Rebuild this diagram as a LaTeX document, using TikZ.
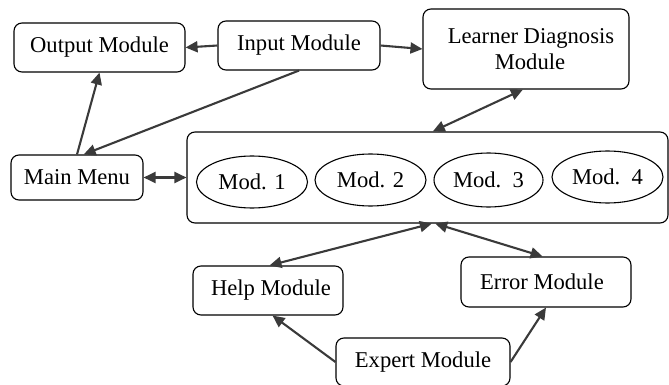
\documentclass[tikz,border=0pt]{standalone}
\usepackage{fontspec}
\setmainfont{Liberation Serif}
\usetikzlibrary{arrows.meta,calc,shapes.geometric}
\definecolor{arrowgray}{HTML}{3A3A3A}
\begin{document}
\begin{tikzpicture}[x=1pt,y=-1pt,
  font=\fontsize{22.6}{26.5}\selectfont,
  modbox/.style={draw=black,line width=1.1pt,rounded corners=8pt,inner sep=0pt,align=center},
  modell/.style={draw=black,line width=1.1pt,ellipse,inner sep=0pt},
  tip/.style={Triangle[length=12pt,width=11pt]},
  link/.style={draw=arrowgray,line width=2.1pt,-{Triangle[length=12pt,width=11pt]}},
  blink/.style={draw=arrowgray,line width=2.1pt,{Triangle[length=12pt,width=11pt]}-{Triangle[length=12pt,width=11pt]}}]
\useasboundingbox (0,0) rectangle (669,385);

% boxes
\node[modbox,minimum width=171pt,minimum height=49pt] (out) at (99.5,47.5) {Output Module};
\node[modbox,minimum width=162pt,minimum height=49pt] (inp) at (299,45.5) {Input Module};
\node[modbox,minimum width=206pt,minimum height=80pt] (ld) at (526,49) {\hspace*{10pt}Learner Diagnosis\\\hspace*{8pt}Module};
\node[modbox,minimum width=132pt,minimum height=45pt] (main) at (77,177.5) {Main Menu};
\node[modbox,minimum width=481pt,minimum height=91pt] (big) at (427.5,177.5) {};
\node[modbox,minimum width=150pt,minimum height=49pt] (help) at (268,290.5) {\hspace*{6pt}Help Module};
\node[modbox,minimum width=170pt,minimum height=50pt] (err) at (546,282) {\hspace*{-8pt}Error Module};
\node[modbox,minimum width=174pt,minimum height=48pt] (exp) at (423,362) {Expert Module};

% modules inside the main frame
\node[modell,minimum width=111pt,minimum height=52pt] (m1) at (252,182) {Mod. 1};
\node[modell,minimum width=111pt,minimum height=52pt] (m2) at (370.5,180) {Mod. 2};
\node[modell,minimum width=109pt,minimum height=54pt] (m3) at (488.5,180) {Mod.\ \ 3};
\node[modell,minimum width=111pt,minimum height=52pt] (m4) at (607.5,177) {Mod.\ \ 4};

% connectors
\draw[link] (inp.west) -- (out.east);
\draw[link] (inp.east) -- (ld.west);
\draw[link] (main.north) -- (out.south);
\draw[link] (inp.south) -- ($(main.north west)!0.55!(main.north east)$);
\draw[blink] (main.east) -- (big.west);
\draw[blink] ($(ld.south west)!0.485!(ld.south east)$) -- ($(big.north west)!0.511!(big.north east)$);
\draw[blink] ($(help.north west)!0.51!(help.north east)$) -- ($(big.south west)!0.509!(big.south east)$);
\draw[blink] ($(err.north west)!0.48!(err.north east)$) -- ($(big.south west)!0.516!(big.south east)$);
\draw[link] (exp.west) -- ($(help.south west)!0.53!(help.south east)$);
\draw[link] (exp.east) -- (err.south);
\end{tikzpicture}
\end{document}
